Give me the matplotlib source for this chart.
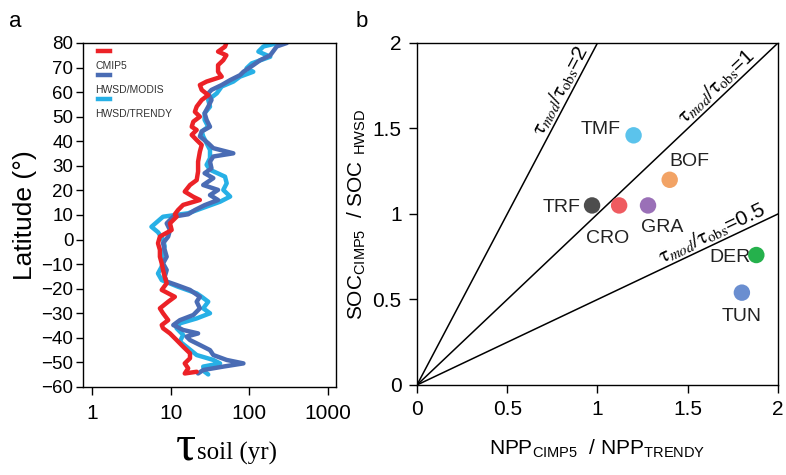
import numpy as np
import matplotlib
matplotlib.use("Agg")
import matplotlib.pyplot as plt
from matplotlib.ticker import FixedLocator, NullLocator

plt.rcParams['font.family'] = ['Liberation Sans', 'DejaVu Sans']
plt.rcParams['mathtext.fontset'] = 'custom'
plt.rcParams['mathtext.rm'] = 'Liberation Sans'
plt.rcParams['mathtext.it'] = 'Liberation Sans:italic'

# panel a: soil carbon turnover time (yr) by latitude
cmip5_lat = [80, 78.5, 76.5, 75, 73, 71, 68.3, 66.3, 64.3, 62.9, 60.9, 58.8, 56.8, 54.1, 52, 50, 48,
             45.9, 44.6, 42.6, 40.5, 38.5, 35.8, 31.7, 27.7, 24.2, 22.2, 19.5, 17.4, 16.1, 14.1, 12, 10.3,
             9.3, 6.6, 3.9, 1.2, -1.5, -4.2, -7, -9.7, -12.4, -15.1, -17.8, -20.5, -23.3, -25.3, -28,
             -30, -32.8, -34.8, -36.1, -38.2, -40.9, -43.6, -46.3, -48.3, -50.4, -52.4, -54.5, -53.8]
cmip5_tau = [51, 49, 40, 51, 46.6, 40, 40, 44.5, 28.6, 23.5, 24.8, 30, 24.8, 21.4, 20.3, 23.5, 19.4,
             18.5, 21.4, 18.5, 21.4, 24.8, 23.5, 22.3, 22.3, 21.4, 17.6, 15.1, 19.4, 23.5, 14.4, 12.4, 11.3,
             11.9, 9.8, 10.3, 7.3, 6.9, 7.3, 7.3, 7.7, 8.0, 8.4, 8.9, 7.7, 11.3, 9.3, 7.3,
             8.0, 9.3, 7.7, 8.0, 9.8, 11.9, 14.4, 17.6, 17.6, 15.1, 16.7, 15.1, 21.4]

modis_lat = [80, 78.6, 75, 73, 71, 68.3, 66.9, 64.9, 62.9, 60.9, 59.5, 56.8, 54.1, 51.4, 48.7, 45.9,
             44, 42, 39.2, 37.2, 35.1, 33.8, 31.7, 29, 27, 25, 22.2, 20.2, 18.1, 16.1, 14, 12, 10.3,
             9.3, 6.6, 3.9, 1.2, -1.5, -4.2, -7, -9.7, -12.4, -15.1, -17.1, -18.5, -20.5, -23.3,
             -25.3, -28, -30.7, -32.8, -34.8, -36.8, -38.2, -39.5, -40.9, -42.9, -45, -47, -49,
             -50.4, -51.7, -53.1, -54.5]
modis_tau = [299, 223, 184, 137, 112, 84, 76, 57, 44.5, 33, 30, 33, 30, 27, 28.6, 31.6,
             24.8, 23.5, 30, 34.8, 62.5, 34.8, 31.6, 33, 27, 34.8, 25.9, 40, 31.6, 40, 27, 20.3, 16.7,
             10.8, 8.9, 9.8, 9.3, 8.0, 8.4, 8.9, 8.0, 8.9, 8.4, 8.9, 11.9, 17.6, 23.5,
             21.4, 23.5, 19.4, 13.1, 10.8, 14.4, 22.3, 15.9, 17.6, 23.5, 31.6, 34.8, 51.5,
             84, 46.6, 25.9, 22.3]

trendy_lat = [80, 78.6, 76.5, 74.4, 71.7, 69.7, 68.3, 66.3, 64.3, 62.3, 59.5, 56.8, 54.1, 51.4, 48.7,
              45.9, 44, 42, 39.2, 36.5, 33.1, 30.4, 28.4, 25.6, 22.9, 20.2, 17.5, 15.4, 12.7, 10.7,
              9.3, 5.2, 3, 0, -2.8, -5.6, -8.3, -11, -13.8, -16.5, -19.2, -21.9, -23.3, -25.3, -28,
              -30, -32.1, -34.1, -36.1, -38.8, -41.5, -44.2, -47, -49, -50.4, -51.7, -53.8, -54.9]
trendy_tau = [234, 151, 130, 184, 107, 92, 112, 76, 62.5, 44.5, 38.5, 30, 31.6, 27, 27,
              30, 24.8, 25.9, 28.6, 31.6, 31.6, 28.6, 31.6, 49, 51.5, 46.6, 57, 42.4, 24.8, 16.7,
              8.0, 5.7, 6.9, 8.0, 8.4, 7.7, 8.0, 7.7, 6.9, 7.7, 12.4, 21.4, 24.8, 30, 25.9,
              31.6, 21.4, 13.1, 11.9, 14.4, 13.1, 16.7, 21.4, 34.8, 42.4, 25.9, 27, 30]

# panel b: biome ratios
biomes = ['TMF', 'BOF', 'TRF', 'CRO', 'GRA', 'DER', 'TUN']
npp_ratio = [1.20, 1.40, 0.97, 1.12, 1.28, 1.88, 1.80]
soc_ratio = [1.46, 1.20, 1.05, 1.05, 1.05, 0.76, 0.54]
biome_colors = ['#5BC3EC', '#F2A365', '#4D4D4D', '#EF5B60', '#9A70B7', '#25B14C', '#6A8ED0']
ratio_lines = [2, 1, 0.5]

red = '#EC2227'
dblue = '#4A6CB4'
lblue = '#27B0E6'

fig = plt.figure(figsize=(7.86, 4.75), dpi=100)
ax1 = fig.add_axes([0.1056, 0.1853, 0.3219, 0.7242])
ax2 = fig.add_axes([0.5305, 0.1895, 0.4593, 0.72])

# ---- panel a
ax1.plot(trendy_tau, trendy_lat, color=lblue, lw=3.2, solid_capstyle='round')
ax1.plot(modis_tau, modis_lat, color=dblue, lw=3.2, solid_capstyle='round')
ax1.plot(cmip5_tau, cmip5_lat, color=red, lw=3.2, solid_capstyle='round')
ax1.set_xscale('log')
ax1.set_xlim(0.77, 1260)
ax1.set_ylim(-60, 80)
ax1.xaxis.set_major_locator(FixedLocator([1, 10, 100, 1000]))
ax1.xaxis.set_minor_locator(NullLocator())
ax1.set_xticklabels(['1', '10', '100', '1000'], fontsize=15)
ax1.set_yticks(np.arange(-60, 81, 10))
ax1.tick_params(axis='y', labelsize=13.5, length=5, width=1, direction='out', pad=2)
ax1.tick_params(axis='x', length=6, width=1, direction='out', pad=6)
ax1.set_ylabel('Latitude (°)', fontsize=19, labelpad=3)
for s in ax1.spines.values():
    s.set_linewidth(1.0)

# legend: short key line with label underneath
for i, (c, lab) in enumerate([(red, 'CMIP5'), (dblue, 'HWSD/MODIS'), (lblue, 'HWSD/TRENDY')]):
    y0 = 0.977 - i * 0.0705
    ax1.plot([0.058, 0.105], [y0, y0], color=c, lw=3.2, transform=ax1.transAxes)
    ax1.text(0.048, y0 - 0.043, lab, fontsize=7.5, color='#333333', va='center',
             transform=ax1.transAxes)

ax1.text(0.447, -0.212, 'τ', fontsize=36, ha='right', va='baseline',
         family='Liberation Serif', transform=ax1.transAxes)
ax1.text(0.452, -0.212, 'soil (yr)', fontsize=18, ha='left', va='baseline',
         family='Liberation Serif', transform=ax1.transAxes)

# ---- panel b
xx = np.array([0, 2])
for r in ratio_lines:
    ax2.plot(xx, r * xx, color='black', lw=1.1)
ax2.scatter(npp_ratio, soc_ratio, s=140, c=biome_colors, zorder=5, edgecolors='none')

offsets = {'TMF': (-13, 6, 'right'), 'BOF': (20, 18, 'center'), 'TRF': (-12, -2, 'right'),
           'CRO': (-12, -33, 'center'), 'GRA': (14, -22, 'center'), 'DER': (-6, -2, 'right'),
           'TUN': (0, -24, 'center')}
for name, x, y in zip(biomes, npp_ratio, soc_ratio):
    dx, dy, ha = offsets[name]
    ax2.annotate(name, (x, y), xytext=(dx, dy), textcoords='offset pixels',
                 ha=ha, va='center', fontsize=14, color='#222222', zorder=4)

lab = r'$\mathrm{\tau}_{\mathit{mod}}/\mathrm{\tau}_{\mathrm{obs}}$'
ax2.text(0.845, 1.69, lab + '=2', rotation=np.degrees(np.arctan(2)), transform_rotates_text=True,
         rotation_mode='anchor', ha='center', va='bottom', fontsize=15, math_fontfamily='stix')
ax2.text(1.70, 1.70, lab + '=1', rotation=45, transform_rotates_text=True,
         rotation_mode='anchor', ha='center', va='bottom', fontsize=15, math_fontfamily='stix')
ax2.text(1.66, 0.83, lab + '=0.5', rotation=np.degrees(np.arctan(0.5)), transform_rotates_text=True,
         rotation_mode='anchor', ha='center', va='bottom', fontsize=15, math_fontfamily='stix')

ax2.set_xlim(0, 2)
ax2.set_ylim(0, 2)
ax2.set_xticks([0, 0.5, 1, 1.5, 2])
ax2.set_xticklabels(['0', '0.5', '1', '1.5', '2'])
ax2.set_yticks([0, 0.5, 1, 1.5, 2])
ax2.set_yticklabels(['0', '0.5', '1', '1.5', '2'])
ax2.tick_params(labelsize=15, length=6, width=1, direction='out', pad=5)
ax2.set_xlabel(r'NPP$_{\mathrm{CIMP5}}$  / NPP$_{\mathrm{TRENDY}}$', fontsize=15, labelpad=13)
ax2.set_ylabel(r'SOC$_{\mathrm{CIMP5}}$  / SOC $_{\mathrm{HWSD}}$', fontsize=15, labelpad=3)
for s in ax2.spines.values():
    s.set_linewidth(1.0)

fig.text(0.012, 0.955, 'a', fontsize=16, va='center')
fig.text(0.452, 0.955, 'b', fontsize=16, va='center')

fig.savefig('out.png', dpi=100)
